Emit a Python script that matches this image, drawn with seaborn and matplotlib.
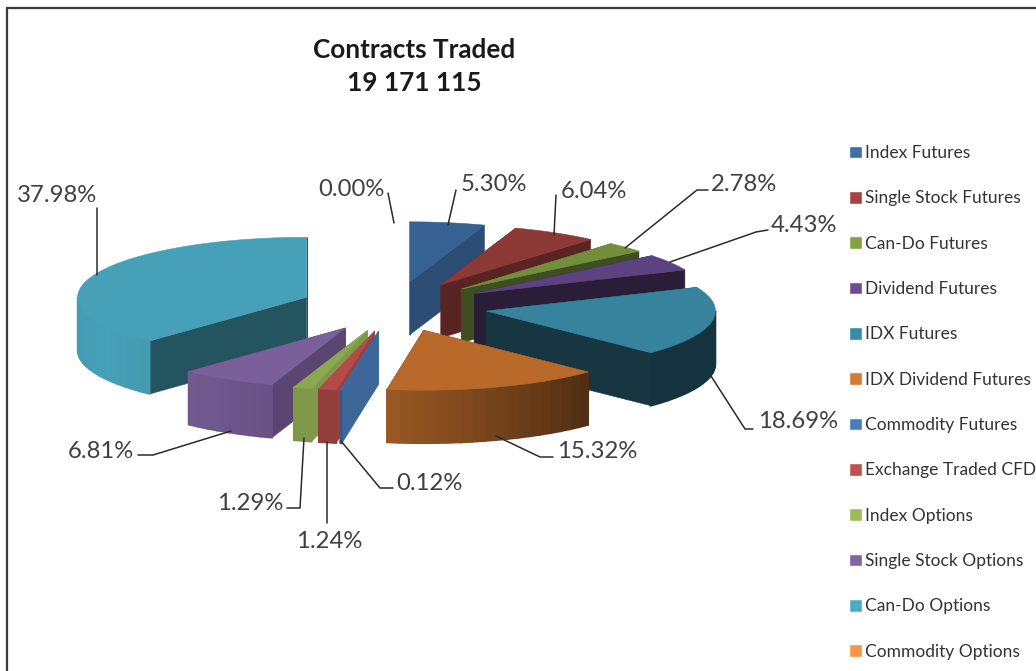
import numpy as np
import matplotlib
matplotlib.use("Agg")
import matplotlib.pyplot as plt
from matplotlib.patches import Patch
import seaborn as sns

# dados
categorias = ['Index Futures', 'Single Stock Futures', 'Can-Do Futures', 'Dividend Futures',
              'IDX Futures', 'IDX Dividend Futures', 'Commodity Futures', 'Exchange Traded CFD',
              'Index Options', 'Single Stock Options', 'Can-Do Options', 'Commodity Options']
percentuais = [5.30, 6.04, 2.78, 4.43, 18.69, 15.32, 0.12, 1.24, 1.29, 6.81, 37.98, 0.00]
titulo = 'Contracts Traded\n19 171 115'

# estilo
cores = ['#3f6ea6', '#a64340', '#83a244', '#6b4c94', '#3a8ba8', '#d57a31',
         '#4a7dbb', '#c0504d', '#9bbb59', '#8064a2', '#4bacc6', '#f79646']
sombra_topo = [.88, .85, .88, .87, .94, .87, .85, .94, .90, .95, .93, .9]
sombra_corte = [.70, .54, .48, .38, .39, .40, .82, .80, .82, .70, .49, .5]

# geometria em pixels
CX, CY = 394, 306.5
RX, RY = 229, 60
EXP_X, EXP_Y = 94, 25
PROF = 53

# posicao dos rotulos e linhas de chamada (pixels)
rotulos_xy = [(494, 184.5), (594, 191.5), (744, 184.5), (804, 226), (798, 422), (597, 451.5),
              (429, 483.5), (329, 541.5), (250, 503.5), (101, 451), (57, 196), (351, 189.5)]
chamadas = [[(456, 190), (448, 225)],
            [(556, 195), (554, 235)],
            [(708, 190), (697, 190), (625, 248)],
            [(768, 230), (756, 232), (670, 262)],
            [(753, 429), (745, 429), (711, 376)],
            [(553, 457), (540, 457), (496, 436)],
            [(393, 488), (380, 488), (341, 441)],
            [(327, 523), (327, 442)],
            [(287, 508), (300, 508), (304, 438)],
            [(138, 455), (153, 455), (231, 431)],
            [(97, 208), (97, 275)],
            [(388, 193), (394, 223)]]

sns.set_theme(style='white')
plt.rcParams['font.family'] = ['Lato', 'DejaVu Sans']
paleta = sns.color_palette(cores)


def escurece(cor, f):
    return tuple(min(1, c * f) for c in cor)


def sombra_arco(t):
    # claro a esquerda, escuro a direita
    return np.interp(t, [90, 134, 189, 196, 211, 240, 270], [.37, .37, .72, .81, .86, .93, .90])


def ponto(ax0, ay0, t):
    r = np.radians(t)
    return ax0 + RX * np.sin(r), ay0 - RY * np.cos(r)


fig = plt.figure(figsize=(10.36, 6.71), dpi=100, facecolor='white')
ax = fig.add_axes([0, 0, 1, 1])
ax.set_xlim(0, 1036)
ax.set_ylim(671, 0)
ax.axis('off')

# moldura (so aparece em cima e a esquerda)
ax.plot([7, 7, 1036], [671, 8, 8], color='#3a3a3a', lw=1.6, solid_joinstyle='miter')

# angulos das fatias, sentido horario a partir do topo
fim = np.cumsum(percentuais) / sum(percentuais) * 360
ini = np.concatenate([[0], fim[:-1]])

# ordem de desenho: de tras para frente
ordem = [0, 1, 2, 3, 4, 5, 10, 9, 8, 7, 6]
for i in ordem:
    t0, t1 = ini[i], fim[i]
    meio = np.radians((t0 + t1) / 2)
    ax0 = CX + EXP_X * np.sin(meio)
    ay0 = CY - EXP_Y * np.cos(meio)
    cor = paleta[i]

    # faces de corte
    for t in (t0, t1):
        px, py = ponto(ax0, ay0, t)
        ax.fill([ax0, px, px, ax0], [ay0, py, py + PROF, ay0 + PROF],
                color=escurece(cor, sombra_corte[i]), lw=.4, zorder=2)

    # lateral curva, em faixas para dar o degrade
    a, b = max(t0, 90), min(t1, 270)
    if b > a:
        ts = np.linspace(a, b, max(2, int((b - a) / 3) + 1))
        for u, v in zip(ts[:-1], ts[1:]):
            x1, y1 = ponto(ax0, ay0, u)
            x2, y2 = ponto(ax0, ay0, v)
            ax.fill([x1, x2, x2, x1], [y1, y2, y2 + PROF, y1 + PROF],
                    color=escurece(cor, sombra_arco((u + v) / 2)), lw=1.2, zorder=2)

    # topo
    ts = np.linspace(t0, t1, 80)
    xs, ys = ponto(ax0, ay0, ts)
    ax.fill(np.r_[ax0, xs], np.r_[ay0, ys], color=escurece(cor, sombra_topo[i]), lw=.4, zorder=2)

# linhas de chamada e rotulos
for v, (tx, ty), linha in zip(percentuais, rotulos_xy, chamadas):
    lx, ly = zip(*linha)
    ax.plot(lx, ly, color='#2b2b2b', lw=1.1, zorder=3)
    ax.text(tx, ty, f'{v:.2f}%', ha='center', va='center', fontsize=17.2, color='#404040', zorder=4)

ax.text(414, 66.5, titulo, ha='center', va='center', fontsize=18.8, fontweight='bold',
        color='#1a1a1a', linespacing=1.48)

# legenda
handles = [Patch(facecolor=c, label=n) for c, n in zip(paleta, categorias)]
ax.legend(handles=handles, loc='upper left', bbox_to_anchor=(849, 145), bbox_transform=ax.transData,
          frameon=False, fontsize=12.5, labelspacing=1.69, handlelength=.74, handleheight=.74,
          handletextpad=.2, borderpad=0, borderaxespad=0, labelcolor='#333333')

plt.savefig('out.png', dpi=100)
plt.close()
